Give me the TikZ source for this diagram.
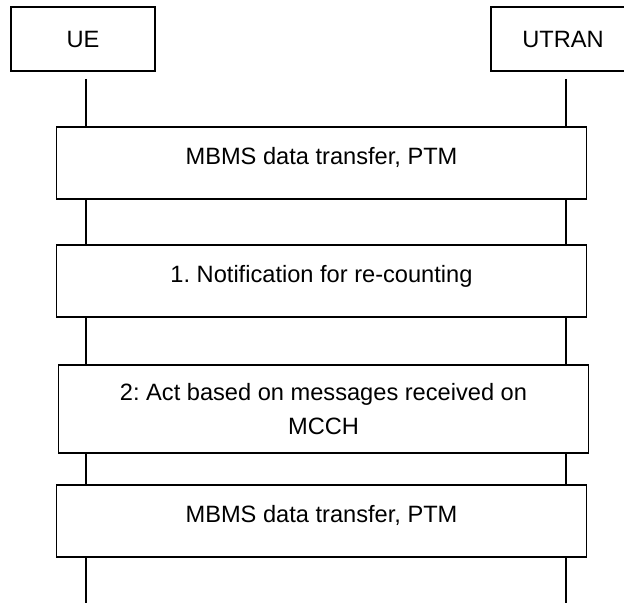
\documentclass[tikz,border=0pt]{standalone}
\usepackage{fontspec}
\setmainfont{Liberation Sans}

\begin{document}
\begin{tikzpicture}[x=0.025cm, y=-0.025cm,
		every node/.style={font=\fontsize{16.8}{24}\selectfont\frenchspacing},
		entity/.style={draw, thick, fill=white, minimum width=3.6cm, minimum height=1.6cm, inner sep=0pt},
		action/.style={draw, thick, fill=white, minimum width=13.225cm, minimum height=1.8cm, inner sep=0pt, text depth=0.33cm},
		actionpair/.style={draw, thick, fill=white, minimum width=13.225cm, minimum height=2.2cm, inner sep=0pt, align=center}]
		\useasboundingbox (0, 0) rectangle (624, 603);

		\node[entity] (ue) at (83, 39) {UE};
		\node[entity] (utran) at (563, 39) {UTRAN};

		% lifelines, boxes are drawn over them
		\coordinate (ue top) at (86, 79);
		\coordinate (ue end) at (86, 603);
		\coordinate (utran top) at (566, 79);
		\coordinate (utran end) at (566, 603);
		\draw[thick] (ue top) -- (ue end);
		\draw[thick] (utran top) -- (utran end);

		\node[action] (transfer1) at (321.5, 163) {MBMS data transfer, PTM};
		\node[action] (notify) at (321.5, 281) {1. Notification for re-counting};
		\node[actionpair] (act) at (323.5, 409) {2: Act based on messages received on\\MCCH};
		\node[action] (transfer2) at (321.5, 521) {MBMS data transfer, PTM};
	\end{tikzpicture}
\end{document}
